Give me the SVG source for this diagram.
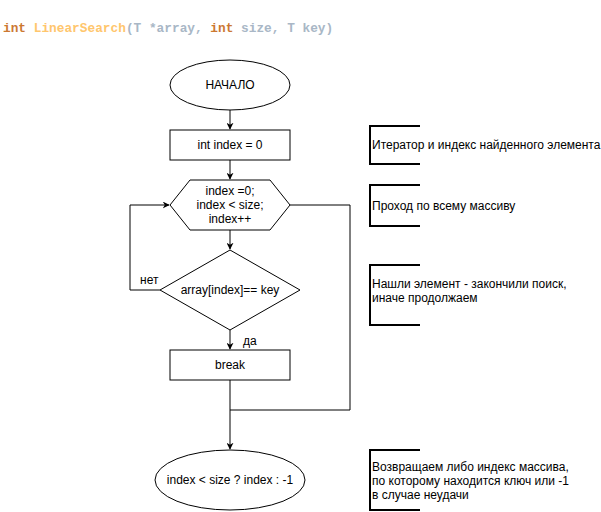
<svg xmlns="http://www.w3.org/2000/svg" width="601" height="512" viewBox="0 0 601 512">
<style>
.n{fill:#fff;stroke:#000;stroke-width:1}
.t{font-family:"Liberation Sans",Arial,sans-serif;font-size:12px;fill:#000}
.c{text-anchor:middle}
.e{fill:none;stroke:#000;stroke-width:1}
.b{fill:none;stroke:#000;stroke-width:2}
.code{font-family:"Liberation Mono","DejaVu Sans Mono",monospace;font-size:12.8px;font-weight:bold}
</style>
<defs>
<marker id="a" viewBox="0 0 10 10" refX="9" refY="5" markerWidth="7" markerHeight="7" markerUnits="userSpaceOnUse" orient="auto">
<path d="M0,0 L10,5 L0,10 L3,5 Z" fill="#000"/>
</marker>
</defs>
<rect width="601" height="512" fill="#fff"/>
<text class="code" x="3" y="32"><tspan fill="#CC7832">int </tspan><tspan fill="#FFC66D">LinearSearch</tspan><tspan fill="#A9B7C6">(T *array, </tspan><tspan fill="#CC7832">int </tspan><tspan fill="#A9B7C6">size, T key)</tspan></text>
<g id="edges">
<path class="e" d="M230,110 L230,129" marker-end="url(#a)"/>
<path class="e" d="M230,160 L230,179" marker-end="url(#a)"/>
<path class="e" d="M230,230 L230,249" marker-end="url(#a)"/>
<path class="e" d="M160,290 L130,290 L130,205 L169,205" marker-end="url(#a)"/>
<path class="e" d="M230,330 L230,349" marker-end="url(#a)"/>
<path class="e" d="M290,205 L350,205 L350,410 L230,410"/>
<path class="e" d="M230,380 L230,449" marker-end="url(#a)"/>
<text class="t" x="140" y="284">нет</text>
<text class="t" x="243" y="345">да</text>
</g>
<g id="start">
<ellipse class="n" cx="230" cy="85" rx="60" ry="25"/>
<text class="t c" x="230" y="89">НАЧАЛО</text>
</g>
<g id="init">
<rect class="n" x="170" y="130" width="120" height="30"/>
<text class="t c" x="230" y="149">int index = 0</text>
</g>
<g id="loop">
<polygon class="n" points="190,180 270,180 290,205 270,230 190,230 170,205"/>
<text class="t c" x="230" y="195">index =0;</text>
<text class="t c" x="230" y="209">index &lt; size;</text>
<text class="t c" x="230" y="223">index++</text>
</g>
<g id="cond">
<polygon class="n" points="230,250 300,290 230,330 160,290"/>
<text class="t c" x="230" y="294">array[index]== key</text>
</g>
<g id="brk">
<rect class="n" x="170" y="350" width="120" height="30"/>
<text class="t c" x="230" y="369">break</text>
</g>
<g id="end">
<ellipse class="n" cx="230" cy="480" rx="75" ry="30"/>
<text class="t c" x="230" y="484">index &lt; size ? index : -1</text>
</g>
<g id="note1">
<path class="b" d="M420,126 L370,126 L370,164 L420,164"/>
<text class="t" x="372" y="149">Итератор и индекс найденного элемента</text>
</g>
<g id="note2">
<path class="b" d="M420,185 L370,185 L370,226 L420,226"/>
<text class="t" x="372" y="210">Проход по всему массиву</text>
</g>
<g id="note3">
<path class="b" d="M420,265 L370,265 L370,325 L420,325"/>
<text class="t" x="372" y="288">Нашли элемент - закончили поиск,</text>
<text class="t" x="372" y="302">иначе продолжаем</text>
</g>
<g id="note4">
<path class="b" d="M420,450 L370,450 L370,510 L420,510"/>
<text class="t" x="372" y="471">Возвращаем либо индекс массива,</text>
<text class="t" x="372" y="485">по которому находится ключ или -1</text>
<text class="t" x="372" y="499">в случае неудачи</text>
</g>
</svg>
